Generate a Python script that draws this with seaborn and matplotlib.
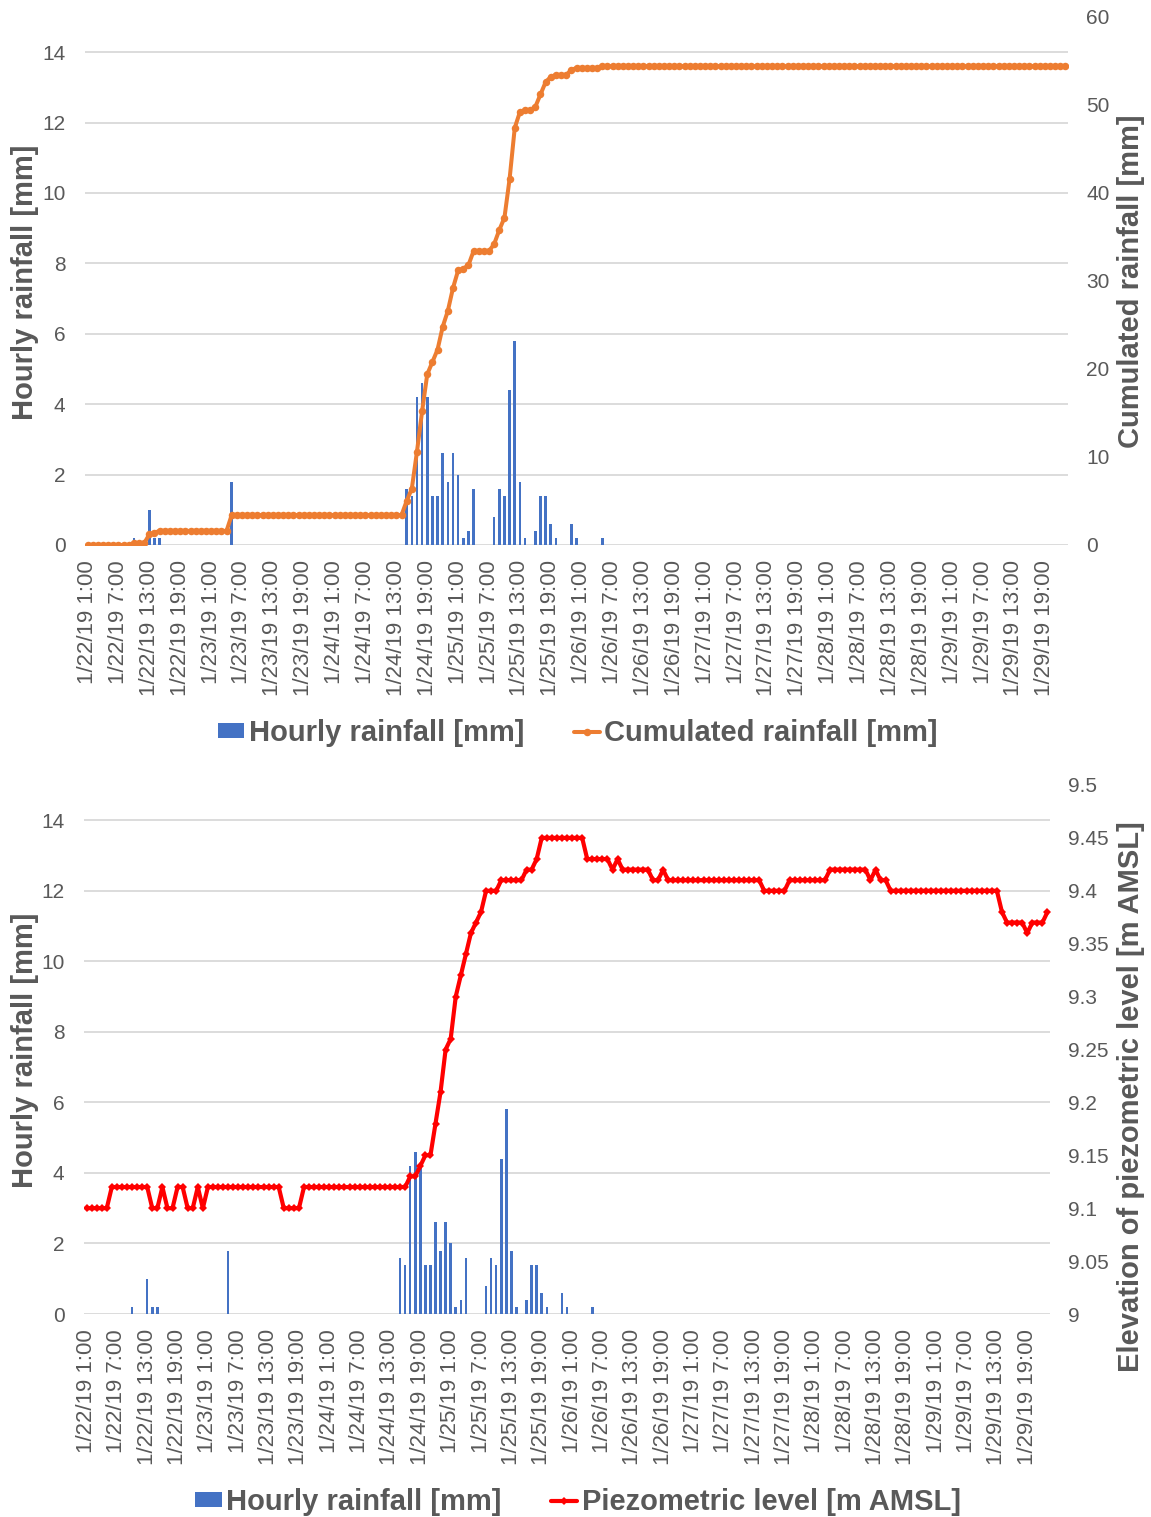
import numpy as np
import pandas as pd
import matplotlib
matplotlib.use("Agg")
import matplotlib.pyplot as plt
import seaborn as sns
from matplotlib.lines import Line2D
from matplotlib.patches import Patch
from matplotlib.ticker import FuncFormatter

# ---------------- data (hourly, 1/22/19 1:00 -> 1/29/19 23:00) ----------------
hourly_rain = [
    0, 0, 0, 0, 0, 0, 0, 0, 0, 0.2, 0, 0, 1.0, 0.2, 0.2, 0, 0, 0, 0, 0, 0, 0, 0, 0,
    0, 0, 0, 0, 1.8, 0, 0, 0, 0, 0, 0, 0, 0, 0, 0, 0, 0, 0, 0, 0, 0, 0, 0, 0,
    0, 0, 0, 0, 0, 0, 0, 0, 0, 0, 0, 0, 0, 0, 1.6, 1.4, 4.2, 4.6, 4.2, 1.4, 1.4, 2.6, 1.8, 2.6,
    2.0, 0.2, 0.4, 1.6, 0, 0, 0, 0.8, 1.6, 1.4, 4.4, 5.8, 1.8, 0.2, 0, 0.4, 1.4, 1.4, 0.6, 0.2, 0, 0, 0.6, 0.2,
    0, 0, 0, 0, 0.2, 0, 0, 0, 0, 0, 0, 0, 0, 0, 0, 0, 0, 0, 0, 0, 0, 0, 0, 0,
    0, 0, 0, 0, 0, 0, 0, 0, 0, 0, 0, 0, 0, 0, 0, 0, 0, 0, 0, 0, 0, 0, 0, 0,
    0, 0, 0, 0, 0, 0, 0, 0, 0, 0, 0, 0, 0, 0, 0, 0, 0, 0, 0, 0, 0, 0, 0, 0,
    0, 0, 0, 0, 0, 0, 0, 0, 0, 0, 0, 0, 0, 0, 0, 0, 0, 0, 0, 0, 0, 0, 0,
]

cumulated_rain = [
    0, 0, 0, 0, 0, 0, 0, 0, 0, 0.2, 0.2, 0.2, 1.2, 1.4, 1.6, 1.6, 1.6, 1.6, 1.6, 1.6, 1.6, 1.6, 1.6, 1.6,
    1.6, 1.6, 1.6, 1.6, 3.4, 3.4, 3.4, 3.4, 3.4, 3.4, 3.4, 3.4, 3.4, 3.4, 3.4, 3.4, 3.4, 3.4, 3.4, 3.4, 3.4, 3.4, 3.4, 3.4,
    3.4, 3.4, 3.4, 3.4, 3.4, 3.4, 3.4, 3.4, 3.4, 3.4, 3.4, 3.4, 3.4, 3.4, 5.0, 6.4, 10.6, 15.2, 19.4, 20.8, 22.2, 24.8, 26.6, 29.2,
    31.2, 31.4, 31.8, 33.4, 33.4, 33.4, 33.4, 34.2, 35.8, 37.2, 41.6, 47.4, 49.2, 49.4, 49.4, 49.8, 51.2, 52.6, 53.2, 53.4, 53.4, 53.4, 54.0, 54.2,
    54.2, 54.2, 54.2, 54.2, 54.4, 54.4, 54.4, 54.4, 54.4, 54.4, 54.4, 54.4, 54.4, 54.4, 54.4, 54.4, 54.4, 54.4, 54.4, 54.4, 54.4, 54.4, 54.4, 54.4,
    54.4, 54.4, 54.4, 54.4, 54.4, 54.4, 54.4, 54.4, 54.4, 54.4, 54.4, 54.4, 54.4, 54.4, 54.4, 54.4, 54.4, 54.4, 54.4, 54.4, 54.4, 54.4, 54.4, 54.4,
    54.4, 54.4, 54.4, 54.4, 54.4, 54.4, 54.4, 54.4, 54.4, 54.4, 54.4, 54.4, 54.4, 54.4, 54.4, 54.4, 54.4, 54.4, 54.4, 54.4, 54.4, 54.4, 54.4, 54.4,
    54.4, 54.4, 54.4, 54.4, 54.4, 54.4, 54.4, 54.4, 54.4, 54.4, 54.4, 54.4, 54.4, 54.4, 54.4, 54.4, 54.4, 54.4, 54.4, 54.4, 54.4, 54.4, 54.4,
]

piezometric_level = [
    9.10, 9.10, 9.10, 9.10, 9.10, 9.12, 9.12, 9.12, 9.12, 9.12, 9.12, 9.12, 9.12, 9.10, 9.10, 9.12, 9.10, 9.10, 9.12, 9.12, 9.10, 9.10, 9.12, 9.10,
    9.12, 9.12, 9.12, 9.12, 9.12, 9.12, 9.12, 9.12, 9.12, 9.12, 9.12, 9.12, 9.12, 9.12, 9.12, 9.10, 9.10, 9.10, 9.10, 9.12, 9.12, 9.12, 9.12, 9.12,
    9.12, 9.12, 9.12, 9.12, 9.12, 9.12, 9.12, 9.12, 9.12, 9.12, 9.12, 9.12, 9.12, 9.12, 9.12, 9.12, 9.13, 9.13, 9.14, 9.15, 9.15, 9.18, 9.21, 9.25,
    9.26, 9.30, 9.32, 9.34, 9.36, 9.37, 9.38, 9.40, 9.40, 9.40, 9.41, 9.41, 9.41, 9.41, 9.41, 9.42, 9.42, 9.43, 9.45, 9.45, 9.45, 9.45, 9.45, 9.45,
    9.45, 9.45, 9.45, 9.43, 9.43, 9.43, 9.43, 9.43, 9.42, 9.43, 9.42, 9.42, 9.42, 9.42, 9.42, 9.42, 9.41, 9.41, 9.42, 9.41, 9.41, 9.41, 9.41, 9.41,
    9.41, 9.41, 9.41, 9.41, 9.41, 9.41, 9.41, 9.41, 9.41, 9.41, 9.41, 9.41, 9.41, 9.41, 9.40, 9.40, 9.40, 9.40, 9.40, 9.41, 9.41, 9.41, 9.41, 9.41,
    9.41, 9.41, 9.41, 9.42, 9.42, 9.42, 9.42, 9.42, 9.42, 9.42, 9.42, 9.41, 9.42, 9.41, 9.41, 9.40, 9.40, 9.40, 9.40, 9.40, 9.40, 9.40, 9.40, 9.40,
    9.40, 9.40, 9.40, 9.40, 9.40, 9.40, 9.40, 9.40, 9.40, 9.40, 9.40, 9.40, 9.40, 9.38, 9.37, 9.37, 9.37, 9.37, 9.36, 9.37, 9.37, 9.37, 9.38,
]

tick_labels = [
    "1/22/19 1:00", "1/22/19 7:00", "1/22/19 13:00", "1/22/19 19:00",
    "1/23/19 1:00", "1/23/19 7:00", "1/23/19 13:00", "1/23/19 19:00",
    "1/24/19 1:00", "1/24/19 7:00", "1/24/19 13:00", "1/24/19 19:00",
    "1/25/19 1:00", "1/25/19 7:00", "1/25/19 13:00", "1/25/19 19:00",
    "1/26/19 1:00", "1/26/19 7:00", "1/26/19 13:00", "1/26/19 19:00",
    "1/27/19 1:00", "1/27/19 7:00", "1/27/19 13:00", "1/27/19 19:00",
    "1/28/19 1:00", "1/28/19 7:00", "1/28/19 13:00", "1/28/19 19:00",
    "1/29/19 1:00", "1/29/19 7:00", "1/29/19 13:00", "1/29/19 19:00",
]
tick_step = 6

rain_ticks = [0, 2, 4, 6, 8, 10, 12, 14]
cum_ticks = [0, 10, 20, 30, 40, 50, 60]
piezo_ticks = [9, 9.05, 9.1, 9.15, 9.2, 9.25, 9.3, 9.35, 9.4, 9.45, 9.5]

# ---------------- style ----------------
sns.set_style("white")
plt.rcParams['font.family'] = ['Liberation Sans', 'DejaVu Sans']

GRAY = '#595959'
BLUE = '#4472C4'
ORANGE = '#ED7D31'
RED = '#FF0000'
GRID = '#D9D9D9'

W, H = 1151, 1517
fig = plt.figure(figsize=(W / 100, H / 100), dpi=100)


def px_axes(l, t, r, b):
    return fig.add_axes([l / W, 1 - b / H, (r - l) / W, (b - t) / H])


n = len(hourly_rain)
df = pd.DataFrame({
    'hour': np.arange(n),
    'rain': hourly_rain,
    'cum': cumulated_rain,
    'piezo': piezometric_level,
})


def style_primary(ax):
    ax.set_xlim(-0.5, n - 0.5)
    ax.set_ylim(0, 15)
    ax.set_yticks(rain_ticks)
    ax.yaxis.grid(True, color=GRID, lw=1.3)
    ax.xaxis.grid(False)
    ax.set_axisbelow(True)
    for s in ax.spines.values():
        s.set_visible(False)
    ax.set_xticks(list(range(0, n, tick_step))[:len(tick_labels)])
    ax.set_xticklabels(tick_labels, rotation=90, fontsize=16, color=GRAY)
    ax.tick_params(axis='x', length=0, pad=11)
    ax.tick_params(axis='y', length=0, pad=14, labelsize=15, labelcolor=GRAY)
    ax.set_xlabel('')
    ax.set_ylabel('')


def style_secondary(axr):
    for s in axr.spines.values():
        s.set_visible(False)
    axr.grid(False)
    axr.tick_params(axis='y', length=0, pad=13, labelsize=15, labelcolor=GRAY)
    axr.set_xlabel('')
    axr.set_ylabel('')


def draw_bars(ax):
    sns.barplot(data=df, x='hour', y='rain', color=BLUE, width=0.5, saturation=1,
                errorbar=None, ax=ax, linewidth=0)
    for p in ax.patches:
        p.set_antialiased(False)


# ---------------- top panel ----------------
ax1 = px_axes(85, 17, 1068, 545)
draw_bars(ax1)
style_primary(ax1)
ax1r = ax1.twinx()
sns.lineplot(data=df, x='hour', y='cum', ax=ax1r, color=ORANGE, lw=2.9,
             marker='o', markersize=5.4, markeredgewidth=0)
ax1r.set_ylim(0, 60)
ax1r.set_yticks(cum_ticks)
ax1.set_xlim(-0.5, n - 0.5)
style_secondary(ax1r)

# ---------------- bottom panel ----------------
ax2 = px_axes(84, 785, 1050, 1314)
draw_bars(ax2)
style_primary(ax2)
ax2r = ax2.twinx()
sns.lineplot(data=df, x='hour', y='piezo', ax=ax2r, color=RED, lw=3.0,
             marker='D', markersize=4.0, markeredgewidth=0)
ax2r.set_ylim(9, 9.5)
ax2r.set_yticks(piezo_ticks)
ax2r.yaxis.set_major_formatter(FuncFormatter(lambda v, p: f"{round(v, 2):g}"))
ax2.set_xlim(-0.5, n - 0.5)
style_secondary(ax2r)

# ---------------- axis titles ----------------
title_kw = dict(rotation=90, ha='center', va='center', fontsize=21,
                fontweight='bold', color=GRAY)
fig.text(25 / W, 1 - 282 / H, "Hourly rainfall [mm]", **title_kw)
fig.text(1131 / W, 1 - 281 / H, "Cumulated rainfall [mm]", **title_kw)
fig.text(25 / W, 1 - 1050 / H, "Hourly rainfall [mm]", **title_kw)
fig.text(1131 / W, 1 - 1097 / H, "Elevation of piezometric level [m AMSL]", **title_kw)

# ---------------- legends ----------------
leg_kw = dict(loc='center', ncol=2, frameon=False,
              prop={'weight': 'bold', 'size': 21}, labelcolor=GRAY,
              handlelength=0.9, handleheight=0.45, handletextpad=0.15,
              columnspacing=1.7, borderpad=0)
h_bar = Patch(facecolor=BLUE, edgecolor='none')
h_cum = Line2D([], [], color=ORANGE, lw=2.9, marker='o', markersize=5.4, markeredgewidth=0)
h_piezo = Line2D([], [], color=RED, lw=3.0, marker='D', markersize=4.0, markeredgewidth=0)
fig.legend([h_bar, h_cum], ["Hourly rainfall [mm]", "Cumulated rainfall [mm]"],
           bbox_to_anchor=(578 / W, 1 - 733 / H), **leg_kw)
fig.legend([h_bar, h_piezo], ["Hourly rainfall [mm]", "Piezometric level [m AMSL]"],
           bbox_to_anchor=(578 / W, 1 - 1502 / H), **leg_kw)

fig.savefig('out.png', dpi=100)
